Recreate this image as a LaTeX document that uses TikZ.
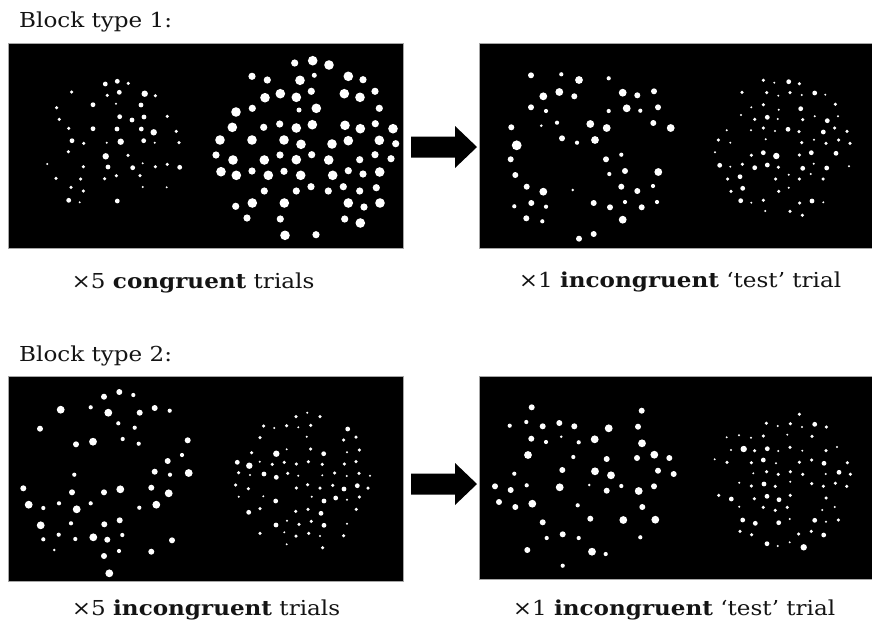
\documentclass[tikz,border=0pt]{standalone}
\usepackage{fontspec}
\setmainfont[FakeStretch=1.12]{DejaVu Serif}
\definecolor{txt}{HTML}{141414}
\begin{document}
\begin{tikzpicture}[x=1pt,y=-1pt,
  panel/.style={fill=black,draw=black!35,line width=0.8pt,inner sep=0pt,outer sep=0pt,anchor=north west},
  lbl/.style={text=txt,inner sep=0pt,font=\fontsize{20.6}{24}\selectfont},
  blockarrow/.style={fill=black},
  dot/.style={fill=white}]
\useasboundingbox (0,0) rectangle (872,625);
% panels
\node[panel,minimum width=395pt,minimum height=205pt] (p1) at (8,43.3) {};
\node[panel,minimum width=395pt,minimum height=205pt] (p2) at (479,43.3) {};
\node[panel,minimum width=395pt,minimum height=204.5pt] (p3) at (8,376.5) {};
\node[panel,minimum width=395pt,minimum height=203.5pt] (p4) at (479,376) {};
% arrows
\coordinate (ar1) at (444,147);
\coordinate (ar2) at (444,484);
\foreach \a in {ar1,ar2}
  \fill[blockarrow] (\a) ++(-33,-10.5) -- ++(44,0) -- ++(0,-10.5) -- ++(22,21) -- ++(-22,21) -- ++(0,-10.5) -- ++(-44,0) -- cycle;
% texts
\node[lbl,anchor=base west] (bt1) at (19,27.7) {Block type 1:};
\node[lbl,anchor=base west] (bt2) at (19,361) {Block type 2:};
\node[lbl,anchor=base] (c1) at (193,288) {×5 \textbf{congruent} trials};
\node[lbl,anchor=base] (c2) at (680,287) {×1 \textbf{incongruent} `test' trial};
\node[lbl,anchor=base] (c3) at (206,615) {×5 \textbf{incongruent} trials};
\node[lbl,anchor=base] (c4) at (674,615) {×1 \textbf{incongruent} `test' trial};
% dot radii tables
\def\rsmall{{0,1.1,1.75,2.4,3.2,4.0}}
\def\rmid{{0,1.4,2.1,3.0,3.9,4.9}}
\def\rbig{{0,1.7,2.5,3.6,4.8,5.5}}
% Panel A
\foreach \x/\y/\c in {105.3/84/3, 117.3/81.3/3, 128.3/83.3/2, 71.7/92/2, 107.3/95.3/2, 119.3/92.3/3, 144.7/93.7/4, 155.3/95.7/2, 56.7/107.7/2, 93/104.7/3, 116/103.7/1, 141/105/3, 59.3/119.3/2, 119.7/116.7/3, 132/120/3, 144/117/3, 167.3/116.3/2, 68.7/128.3/2, 93/128.7/3, 117/129/3, 141.3/129/3, 153.7/132.3/4, 176.3/131.3/2, 72/140.7/3, 83.7/143.3/2, 106.7/142.7/1, 120.7/141.7/4, 143.7/140.7/3, 154.7/142.7/1, 179/142.7/2, 68.3/151.7/2, 105.7/156.3/4, 128/155.3/2, 47.3/164/1, 83.3/166.7/2, 108/167/3, 132.7/167.7/3, 142.7/163.3/1, 155.3/166.7/2, 167.3/164.3/2, 179.7/167.3/3, 56/178.3/2, 80.7/179/2, 104.7/178.7/2, 116.3/175.7/2, 140/175.7/2, 71/187.3/2, 83.3/191/2, 142.7/187/1, 166.7/187.3/1, 68.7/200.3/3, 79.7/202.3/1, 117.3/201/3}
  {\pgfmathsetmacro\rr{\rsmall[\c]}\fill[dot] (\x,\y) circle[radius=\rr pt];}
% Panel B
\foreach \x/\y/\c in {294.7/63/3, 312.7/60.7/4, 329/65/4, 252/76.3/3, 267.3/80/3, 300/80.3/4, 314.3/75.3/2, 348.3/76.3/4, 363/79.7/3, 265/97.7/4, 280.3/93.7/4, 296.3/97.3/4, 311.3/91.3/3, 344.3/93.7/4, 360/97.3/4, 375/91.3/3, 236/112/4, 252.3/108.3/3, 299/110/2, 316.3/108.3/4, 379.3/108.3/3, 232.3/127.3/4, 263.7/127.3/3, 279.7/124/3, 296.3/128/4, 312.3/124.7/4, 345/125.3/4, 360.3/128.7/4, 375.3/123.7/3, 393/128.7/4, 220/140/4, 252/140/4, 284/140/4, 301/144.3/4, 332/144/4, 348.3/140.7/4, 379.3/140.3/4, 395.7/143.7/3, 216/155/3, 233/160/4, 264.3/160/4, 280/155/3, 296.3/159.7/4, 311.7/154.7/3, 328.7/160/4, 359.7/159.7/3, 375/154.7/3, 391/158.7/3, 221/171.7/4, 236.3/175.3/4, 252/171/3, 268.3/175.3/4, 284/171.3/3, 300.7/175.3/4, 332.7/175.3/4, 348.3/170.7/3, 363/174/3, 379.7/172/4, 264.3/191/3, 296.3/191/3, 311/186.7/3, 328.3/191/3, 343.3/186.7/3, 359.7/191/3, 376.3/187.7/3, 235.7/206.3/3, 252.3/203/4, 284.3/203/4, 348.3/203/4, 364/207/3, 380/203/4, 247/218/3, 280.3/219/3, 344.7/219/3, 360.3/223/4, 285/235.3/4, 316/234.7/3}
  {\pgfmathsetmacro\rr{\rbig[\c]}\fill[dot] (\x,\y) circle[radius=\rr pt];}
% Panel C
\foreach \x/\y/\c in {531/75.3/3, 561.3/74.3/2, 579/80/4, 608.7/78.3/2, 543.3/96.3/4, 559.3/92/4, 574.3/96.3/3, 622.7/92.7/4, 637.3/95.3/3, 654/91.3/3, 531/107.3/3, 546/111/2, 608.7/111/2, 626.7/108.3/4, 640.3/110.7/2, 658/107.3/3, 511.3/127.3/3, 541.3/125.7/1, 557/122.7/2, 590.3/124/4, 606.7/128/4, 653.3/123/3, 670.7/128/4, 562/138.3/3, 577/142.7/2, 595/140/4, 516.7/145.3/5, 510.7/159.3/3, 606/159.3/3, 621.3/154.7/2, 515.3/175/3, 609.3/174/2, 625/171/3, 658.3/172/4, 526.7/186.7/3, 543.3/191.7/4, 572.7/190/1, 621.3/186.7/3, 637.3/191/3, 653/186/2, 514.3/206.3/2, 531.3/203/3, 546/206.7/2, 593.7/203/3, 610/207.3/3, 625/202/2, 641.7/207.3/3, 657/202/2, 526.3/218.3/3, 542.3/221.3/2, 622.7/219.7/4, 579/238.7/3, 593.7/234/3}
  {\pgfmathsetmacro\rr{\rmid[\c]}\fill[dot] (\x,\y) circle[radius=\rr pt];}
% Panel D
\foreach \x/\y/\c in {763.3/80.3/2, 774.3/82.7/1, 788.7/81.7/3, 799.3/83.7/2, 742/92.3/2, 766.7/92.7/2, 778.3/95.7/1, 790/92.7/2, 801.7/95/1, 814.7/93/3, 825.3/94.7/1, 751.3/107.3/1, 763.3/104.7/2, 778.7/109.7/1, 800.7/108.7/3, 835.3/104.3/2, 741/115/1, 754.7/119.3/2, 767.3/117.3/3, 777.7/119/1, 802.7/119.7/2, 814.7/116.3/1, 827.3/120.7/3, 838/116.3/1, 751/130.3/1, 763.3/128/2, 775/131/1, 788/129.3/3, 799/131.7/2, 823.3/132/3, 834.7/128/2, 847/131.3/2, 726.7/130.3/1, 718.3/140/2, 730.3/142.7/1, 765.7/139.3/1, 801.7/142.7/2, 814/139.7/1, 826/143.3/2, 838.7/140/2, 850/143.3/2, 715/152.3/1, 751.3/155.3/2, 763.3/152.7/3, 776.3/156/4, 799.3/155/2, 811.3/152.7/3, 836/153.3/3, 719.7/165.3/3, 730.3/166.7/1, 742.3/164.3/2, 754.7/167.7/3, 767.3/165/3, 778.3/167.3/2, 802.7/168.3/3, 813.7/163.7/1, 826.7/168/3, 849/166.3/1, 727.7/179/2, 740/176.7/3, 775.7/179/2, 788.7/174.7/1, 799.3/179/2, 810.7/174/1, 823/179/2, 731/191.3/2, 742.7/188.3/3, 778.7/191.3/2, 788.7/187.7/1, 740.7/200.7/3, 751.3/202.7/1, 763.3/200.3/2, 799.7/203/2, 812/201/3, 823.3/202.3/1, 765.3/211/1, 790/211.3/2, 802.3/215.3/2}
  {\pgfmathsetmacro\rr{\rsmall[\c]}\fill[dot] (\x,\y) circle[radius=\rr pt];}
% Panel E
\foreach \x/\y/\c in {104/396.7/3, 119.3/392/3, 133.3/395/2, 60.7/409.7/4, 90.7/407.3/2, 108.3/412.7/4, 139.7/412.7/3, 154.7/408/3, 169.7/410.7/2, 40/428.7/3, 118.3/423.3/2, 134.7/427.7/2, 76/444.3/3, 93/441.7/4, 122.7/439/2, 138.7/443.7/2, 187.7/440.3/3, 167.7/461/3, 182/455/2, 74.3/474.7/2, 154.7/471.7/3, 170/474.7/2, 188.7/473/4, 23.3/488.3/3, 72/492.3/3, 104/492.3/3, 120.3/489.3/4, 151.3/487.7/3, 168.7/493.3/4, 28.7/504.7/4, 43.3/508/2, 59/503.3/2, 76.7/509.3/4, 90.7/503.3/2, 139.3/507.7/2, 156.3/504.7/4, 40.7/525.3/4, 71/523.3/2, 104.3/524.3/3, 119.7/520.3/3, 43.3/539.3/2, 58.7/534.7/2, 75.3/539/2, 93.3/537.3/4, 107.3/539.7/3, 122.3/535/2, 172/540.3/3, 54.3/550/1, 104/556/3, 119/551/2, 151.3/551.7/3, 109.3/573.3/4}
  {\pgfmathsetmacro\rr{\rmid[\c]}\fill[dot] (\x,\y) circle[radius=\rr pt];}
% Panel F
\foreach \x/\y/\c in {296/416.7/2, 307.3/412.7/1, 320/416.7/2, 263.7/426/2, 274.3/428/1, 286.7/425.7/2, 298.3/427.3/1, 310.7/425.3/2, 347.7/429/3, 260/437.7/2, 306.7/436.7/1, 343.7/440/2, 356/437/2, 251.7/452.7/2, 276.3/453.7/4, 286.7/449.3/1, 310.7/449/2, 323.7/453.7/3, 347/452.3/1, 359.3/450/2, 237.3/462.3/3, 249.3/465.7/4, 259.7/461.7/1, 272.3/464.3/2, 284.3/462.3/2, 296.3/464/2, 308.3/461.7/2, 322.3/464.3/2, 344.3/464/2, 356/461.7/2, 238.7/472.7/2, 250/475/1, 264/474/3, 276.3/477.3/3, 287.7/473.3/2, 298.3/475.7/1, 322.3/475.3/1, 334.7/473/2, 346.7/476/1, 359/473.3/2, 370/475.7/1, 235.7/485/2, 248.3/488.7/2, 296.3/488/2, 307.7/484.7/2, 320/488/2, 332.7/485.3/2, 344/489/3, 357.3/485.7/3, 368/488/2, 238.7/496.7/1, 263.3/496.3/1, 275.7/501/3, 311.7/496.7/1, 324/501/3, 335.7/498/3, 347/499.7/1, 359.3/497/2, 248.7/512.3/3, 260/508.7/2, 295.7/511.3/2, 308/509.3/2, 321/513.3/3, 356.3/509.3/2, 287/520.7/1, 299/524.3/2, 311.3/521.3/2, 276/525/3, 324/525.3/3, 347/523.7/1, 260/533.3/2, 284.3/532.3/1, 296/536/2, 308.7/533.3/2, 320/536/1, 343.7/535.7/2, 286.7/544.3/1, 322.7/547.7/2}
  {\pgfmathsetmacro\rr{\rsmall[\c]}\fill[dot] (\x,\y) circle[radius=\rr pt];}
% Panel G
\foreach \x/\y/\c in {531.7/407.3/3, 641.7/410.7/3, 509.7/425.7/2, 526.3/422/2, 542.7/426.3/3, 559.3/423/3, 574.3/426.3/3, 608.7/428.3/4, 638/426.7/3, 531.3/438.7/3, 546/442/2, 561.3/436.7/1, 578.7/442.3/2, 594.7/439.3/4, 642/443.3/4, 528/455/4, 573.3/457/2, 606.7/459/3, 637/458/3, 654.3/454.7/4, 669.3/458/3, 514.3/473.7/2, 562.3/470/3, 595/471.3/4, 611/475.3/4, 658/470.7/3, 673.7/474/3, 495/486.3/3, 510.7/490/3, 526.7/485.3/2, 559.7/487.3/4, 589.3/485/1, 606.7/490.7/3, 621.3/486/2, 638.7/491/4, 654/486.3/3, 499/502/3, 515.3/507/3, 532.3/503.7/4, 577.7/505.3/2, 642.3/507/3, 542.7/522.3/3, 590.3/518.7/3, 623.3/520/4, 655.3/519.7/4, 546.7/538/2, 562.7/534.3/3, 578.7/538/2, 640.3/537.3/2, 527.3/550/3, 592/551.7/4, 605.7/554/2, 562.7/565.7/2}
  {\pgfmathsetmacro\rr{\rmid[\c]}\fill[dot] (\x,\y) circle[radius=\rr pt];}
% Panel H
\foreach \x/\y/\c in {799.3/414.3/2, 766.3/423.3/2, 777.7/426/1, 790.3/423.7/2, 802/427/1, 814.7/424.3/3, 826.3/427/2, 726.7/437.3/1, 739/435.3/1, 751/437.7/1, 763.3/436/2, 787.3/434.7/1, 812/436.3/2, 731/450/1, 743.7/449/4, 754.7/450.7/2, 767.3/448.7/3, 778.3/451/1, 790/447.3/2, 802.3/450.7/1, 826/450.7/2, 837/447/1, 714.7/459.3/1, 727/462.3/2, 751.3/462.7/2, 763.3/460/3, 776/463.3/1, 799.3/462.3/2, 811.7/460/2, 824/463.3/3, 847.3/462.7/2, 753.3/473.3/1, 766.7/471.7/2, 778.3/474.3/2, 790.3/471.7/2, 802.7/474.3/2, 825.7/474/1, 839/472.3/3, 850.3/474.3/2, 739.3/482.7/1, 751.3/486/2, 764/484/3, 775.3/486.3/2, 790.3/481.7/1, 811.7/483.7/2, 823.3/486.3/2, 835.3/483.3/2, 846.7/486.3/2, 718.7/495.3/2, 731.3/499/3, 754.3/498.7/2, 767/496.3/3, 779/499.7/3, 790.3/495.3/2, 826/498/2, 739.3/506.7/1, 763.3/507.3/2, 775.3/510.3/2, 787.3/507.3/2, 822.3/510/1, 834.7/507/1, 742.7/520/3, 755.3/523.3/3, 778.7/522.7/3, 789.7/519/1, 814.7/520.3/3, 826/521.7/1, 838.3/520/2, 740/531.3/2, 751.7/534.7/2, 798.7/534/2, 811.3/531.3/2, 823.7/535/3, 767/543.7/3, 777.7/546/1, 789.7/542.3/1, 803.7/547.3/4}
  {\pgfmathsetmacro\rr{\rsmall[\c]}\fill[dot] (\x,\y) circle[radius=\rr pt];}
\end{tikzpicture}
\end{document}
